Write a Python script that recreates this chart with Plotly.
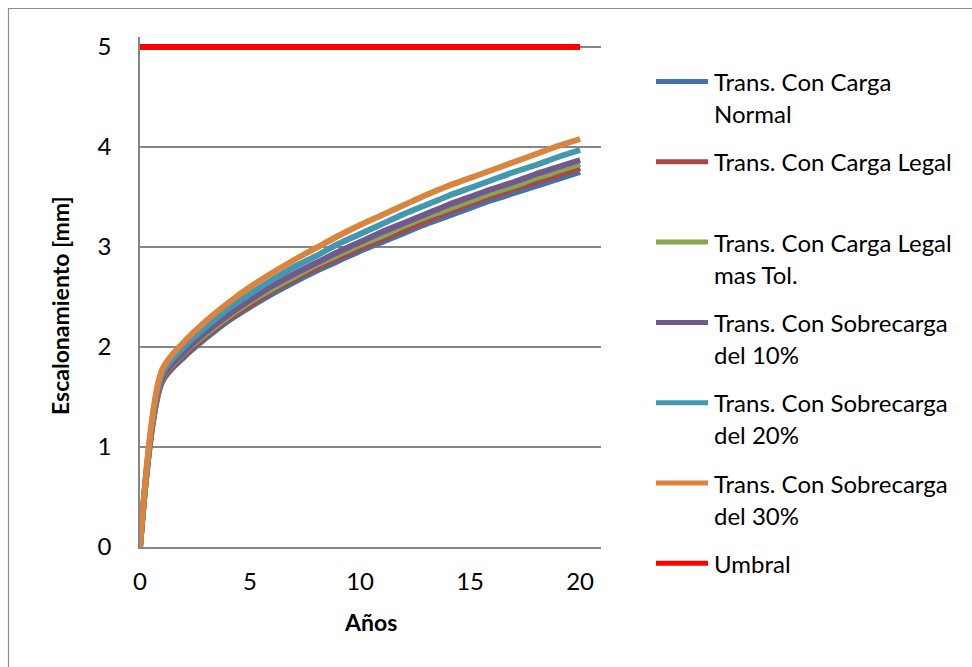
import plotly.graph_objects as go

# Years of service (0..20)
years = list(range(0, 21))

# Faulting [mm] per transit scenario
normal = [0, 1.65, 1.90, 2.09, 2.26, 2.40, 2.53, 2.65, 2.76, 2.86, 2.96,
          3.05, 3.14, 3.23, 3.31, 3.39, 3.47, 3.54, 3.61, 3.68, 3.75]
legal = [0, 1.66, 1.92, 2.11, 2.28, 2.42, 2.56, 2.68, 2.79, 2.89, 2.99,
         3.08, 3.17, 3.26, 3.35, 3.43, 3.51, 3.58, 3.65, 3.72, 3.79]
legal_tol = [0, 1.68, 1.94, 2.13, 2.30, 2.45, 2.58, 2.70, 2.82, 2.92, 3.02,
             3.11, 3.21, 3.30, 3.38, 3.46, 3.54, 3.61, 3.69, 3.76, 3.83]
sobre10 = [0, 1.69, 1.95, 2.15, 2.32, 2.47, 2.61, 2.73, 2.84, 2.95, 3.05,
           3.15, 3.24, 3.33, 3.42, 3.50, 3.58, 3.65, 3.73, 3.80, 3.87]
sobre20 = [0, 1.73, 2.00, 2.20, 2.38, 2.53, 2.67, 2.80, 2.91, 3.03, 3.13,
           3.23, 3.33, 3.42, 3.51, 3.59, 3.67, 3.75, 3.82, 3.90, 3.97]
sobre30 = [0, 1.77, 2.05, 2.26, 2.44, 2.60, 2.74, 2.87, 2.99, 3.11, 3.22,
           3.32, 3.42, 3.52, 3.61, 3.69, 3.77, 3.85, 3.93, 4.01, 4.08]
umbral_years = [0, 20]
umbral = [5, 5]

series_names = [
    ["Trans. Con Carga", "Normal"],
    ["Trans. Con Carga Legal"],
    ["Trans. Con Carga Legal", "mas Tol."],
    ["Trans. Con Sobrecarga", "del 10%"],
    ["Trans. Con Sobrecarga", "del 20%"],
    ["Trans. Con Sobrecarga", "del 30%"],
    ["Umbral"],
]
series_colors = ["#4572A7", "#AA4643", "#89A54E", "#71588F",
                 "#4198AF", "#DB843D", "#FF0000"]
series_x = [years] * 6 + [umbral_years]
series_y = [normal, legal, legal_tol, sobre10, sobre20, sobre30, umbral]

FONT = "Lato, 'Open Sans', sans-serif"
W, H = 972, 667
L, R, T, B = 140, 601, 37, 547  # plot area in pixels

fig = go.Figure()
for xs, ys, c, nm in zip(series_x, series_y, series_colors, series_names):
    fig.add_trace(go.Scatter(x=xs, y=ys, mode="lines", name=" ".join(nm),
                             line=dict(color=c, width=6, shape="spline",
                                       smoothing=0.8),
                             showlegend=False))


def px_x(p):
    return (p - L) / (R - L)


def px_y(p):
    return (B - p) / (B - T)


shapes = []
annotations = []

# outer chart border
shapes.append(dict(type="rect", xref="paper", yref="paper",
                   x0=px_x(8.5), x1=px_x(990), y0=px_y(990), y1=px_y(8.5),
                   line=dict(color="#8c8c8c", width=1.2), layer="below"))

# legend: line swatch plus one or two lines of text per series
for i, (nm, c) in enumerate(zip(series_names, series_colors)):
    yc = 81.5 + 80.3 * i
    shapes.append(dict(type="line", xref="paper", yref="paper",
                       x0=px_x(656), x1=px_x(708), y0=px_y(yc), y1=px_y(yc),
                       line=dict(color=c, width=5)))
    for j, line_txt in enumerate(nm):
        annotations.append(dict(text=line_txt, xref="paper", yref="paper",
                                x=px_x(712), y=px_y(yc + 32 * j),
                                xanchor="left", yanchor="middle", showarrow=False,
                                font=dict(family=FONT, size=24, color="#000000")))

# axis titles
annotations.append(dict(text="<b>Escalonamiento [mm]</b>", xref="paper", yref="paper",
                        x=px_x(60), y=px_y(306), textangle=-90,
                        xanchor="center", yanchor="middle", showarrow=False,
                        font=dict(family=FONT, size=23, color="#000000")))
annotations.append(dict(text="<b>Años</b>", xref="paper", yref="paper",
                        x=px_x(370), y=px_y(622),
                        xanchor="center", yanchor="middle", showarrow=False,
                        font=dict(family=FONT, size=23, color="#000000")))

fig.update_layout(
    width=W, height=H,
    margin=dict(l=L, r=W - R, t=T, b=H - B, pad=0),
    paper_bgcolor="white", plot_bgcolor="white",
    shapes=shapes, annotations=annotations,
    font=dict(family=FONT, size=24, color="#000000"),
    showlegend=False,
)
fig.update_xaxes(range=[0, 20.95], tickvals=[0, 5, 10, 15, 20],
                 showgrid=False, zeroline=False, showline=True,
                 linecolor="#868686", linewidth=1.5, ticks="",
                 ticklabelstandoff=12, tickfont=dict(family=FONT, size=24))
fig.update_yaxes(range=[0, 5.1], tickvals=[0, 1, 2, 3, 4, 5],
                 showgrid=True, gridcolor="#868686", gridwidth=1.5,
                 zeroline=False, showline=True,
                 linecolor="#868686", linewidth=1.5, ticks="",
                 ticklabelstandoff=22, tickfont=dict(family=FONT, size=24))

fig.write_html("out.html")
